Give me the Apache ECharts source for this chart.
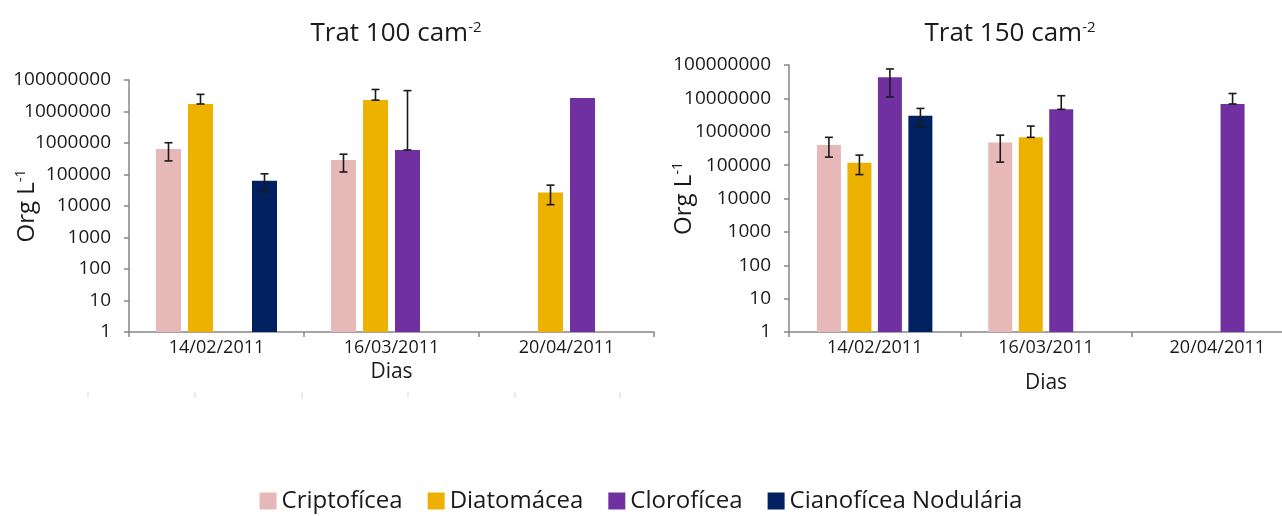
<!DOCTYPE html>
<html>
<head>
<meta charset="utf-8">
<script src="https://cdn.jsdelivr.net/npm/echarts@6/dist/echarts.min.js"></script>
<style>
html,body{margin:0;padding:0;background:#fff;}
#chart{width:1282px;height:516px;}
</style>
</head>
<body>
<div id="chart"></div>
<script>
// ---- data ----
const categories = ['14/02/2011', '16/03/2011', '20/04/2011'];
const seriesNames = ['Criptofícea', 'Diatomácea', 'Clorofícea', 'Cianofícea Nodulária'];
const seriesColors = ['#E6B9B8', '#EDB200', '#7030A0', '#002060'];
const yTickValues = [1, 10, 100, 1000, 10000, 100000, 1000000, 10000000, 100000000];

// Trat 100 cam-2 (Org L-1)
const t100Cripto = [640000, 290000, null];
const t100Diatom = [17300000, 23000000, 27000];
const t100Cloro = [null, 600000, 27000000];
const t100Ciano = [63000, null, null];
// error bar ends [low, high]
const t100CriptoErr = [[270000, 1020000], [120000, 440000], null];
const t100DiatomErr = [[17300000, 35000000], [23000000, 50000000], [11000, 46000]];
const t100CloroErr = [null, [600000, 46000000], null];
const t100CianoErr = [[28000, 105000], null, null];

// Trat 150 cam-2 (Org L-1)
const t150Cripto = [400000, 480000, null];
const t150Diatom = [117000, 680000, null];
const t150Cloro = [43000000, 4700000, 6800000];
const t150Ciano = [3000000, null, null];
const t150CriptoErr = [[174000, 680000], [123000, 790000], null];
const t150DiatomErr = [[52000, 200000], [680000, 1480000], null];
const t150CloroErr = [[11000000, 76000000], [4700000, 12000000], [6800000, 14000000]];
const t150CianoErr = [[1380000, 5000000], null, null];

// ---- chart ----
const FONT = 'Open Sans';
const TXT = '#1a1a1a';
const AX = '#868686';

function toBar(arr) { return arr.map(v => (v == null ? '-' : v)); }
function errData(errArrs) {
  const out = [];
  errArrs.forEach((arr, s) => {
    arr.forEach((e, c) => { if (e) out.push([c, e[0], e[1], s]); });
  });
  return out;
}
function errRender(step) {
  return function (params, api) {
    const c = api.value(0);
    const s = api.value(3);
    const lo = api.coord([c, api.value(1)]);
    const hi = api.coord([c, api.value(2)]);
    const x = lo[0] + (s - 1.5) * step;
    const cap = 4;
    const st = { stroke: '#1a1a1a', lineWidth: 1.6 };
    return {
      type: 'group',
      children: [
        { type: 'line', shape: { x1: x, y1: lo[1], x2: x, y2: hi[1] }, style: st },
        { type: 'line', shape: { x1: x - cap, y1: lo[1], x2: x + cap, y2: lo[1] }, style: st },
        { type: 'line', shape: { x1: x - cap, y1: hi[1], x2: x + cap, y2: hi[1] }, style: st }
      ]
    };
  };
}

const grids = [
  { left: 129, top: 80, width: 525, height: 252, containLabel: false, outerBoundsMode: 'none' },
  { left: 789, top: 65, width: 514, height: 267, containLabel: false, outerBoundsMode: 'none' }
];

function xAxisCfg(gi, nameGap) {
  return {
    type: 'category', gridIndex: gi, data: categories,
    boundaryGap: true,
    name: 'Dias', nameLocation: 'middle', nameGap: nameGap, nameMoveOverlap: false,
    nameTextStyle: { fontFamily: FONT, fontSize: 21, color: TXT },
    axisLine: { show: true, lineStyle: { color: AX, width: 1.5 } },
    axisTick: { show: true, alignWithLabel: false, interval: 0, length: 5, lineStyle: { color: AX, width: 1.5 } },
    axisLabel: { fontFamily: FONT, fontSize: 18, color: TXT, margin: 7, interval: 0 },
    splitLine: { show: false }
  };
}
function yAxisCfg(gi, nameGap) {
  return {
    type: 'log', logBase: 10, gridIndex: gi, min: yTickValues[0], max: yTickValues[yTickValues.length - 1],
    splitNumber: 8,
    name: '{a|Org L}{s|-1}', nameLocation: 'middle', nameGap: nameGap, nameRotate: 90, nameMoveOverlap: false,
    nameTextStyle: {
      rich: {
        a: { fontFamily: FONT, fontSize: 24, color: TXT },
        s: { fontFamily: FONT, fontSize: 14, color: TXT, verticalAlign: 'bottom', padding: [0, 0, 12, 0] }
      }
    },
    axisLine: { show: true, lineStyle: { color: AX, width: 1.5 } },
    axisTick: { show: true, length: 5, lineStyle: { color: AX, width: 1.5 } },
    axisLabel: { fontFamily: FONT, fontSize: 19, color: TXT, margin: 18, formatter: v => String(Math.round(v)) },
    splitLine: { show: false }
  };
}

function barSeries(gi, arrays, barWidth, barGap) {
  return arrays.map((arr, i) => ({
    type: 'bar', name: seriesNames[i], xAxisIndex: gi, yAxisIndex: gi,
    data: toBar(arr), barWidth: barWidth, barGap: barGap,
    itemStyle: { color: seriesColors[i] }, z: 2
  }));
}

const titleRich = {
  a: { fontFamily: FONT, fontSize: 26, fontWeight: 'normal', color: TXT },
  s: { fontFamily: FONT, fontSize: 15, fontWeight: 'normal', color: TXT, verticalAlign: 'bottom', padding: [0, 0, 12, 0] }
};

const option = {
  backgroundColor: '#fff',
  animation: false,
  color: seriesColors,
  title: [
    { text: '{a|Trat 100 cam}{s|-2}', left: 391, top: 15, textAlign: 'center', textStyle: { fontWeight: 'normal', rich: titleRich } },
    { text: '{a|Trat 150 cam}{s|-2}', left: 1005, top: 15, textAlign: 'center', textStyle: { fontWeight: 'normal', rich: titleRich } }
  ],
  legend: {
    data: seriesNames, left: 'center', top: 484,
    icon: 'rect', itemWidth: 17, itemHeight: 17, itemGap: 25,
    textStyle: { fontFamily: FONT, fontSize: 24, color: TXT },
    selectedMode: false
  },
  grid: grids,
  xAxis: [xAxisCfg(0, 30), xAxisCfg(1, 41)],
  yAxis: [yAxisCfg(0, 89), yAxisCfg(1, 92)],
  series: [
    ...barSeries(0, [t100Cripto, t100Diatom, t100Cloro, t100Ciano], 25, '28%'),
    ...barSeries(1, [t150Cripto, t150Diatom, t150Cloro, t150Ciano], 24, '27%'),
    {
      type: 'custom', name: 'err100', xAxisIndex: 0, yAxisIndex: 0, z: 5,
      renderItem: errRender(32),
      encode: { x: 0, y: [1, 2] },
      data: errData([t100CriptoErr, t100DiatomErr, t100CloroErr, t100CianoErr])
    },
    {
      type: 'custom', name: 'err150', xAxisIndex: 1, yAxisIndex: 1, z: 5,
      renderItem: errRender(30.5),
      encode: { x: 0, y: [1, 2] },
      data: errData([t150CriptoErr, t150DiatomErr, t150CloroErr, t150CianoErr])
    }
  ],
  graphic: [88, 195, 302, 408, 515, 620].map(x => ({
    type: 'line', shape: { x1: x, y1: 392, x2: x, y2: 398 },
    style: { stroke: '#d8d8d8', lineWidth: 1 }, silent: true
  }))
};

const chart = echarts.init(document.getElementById('chart'), null, { renderer: 'canvas' });
chart.setOption(option);
</script>
</body>
</html>
